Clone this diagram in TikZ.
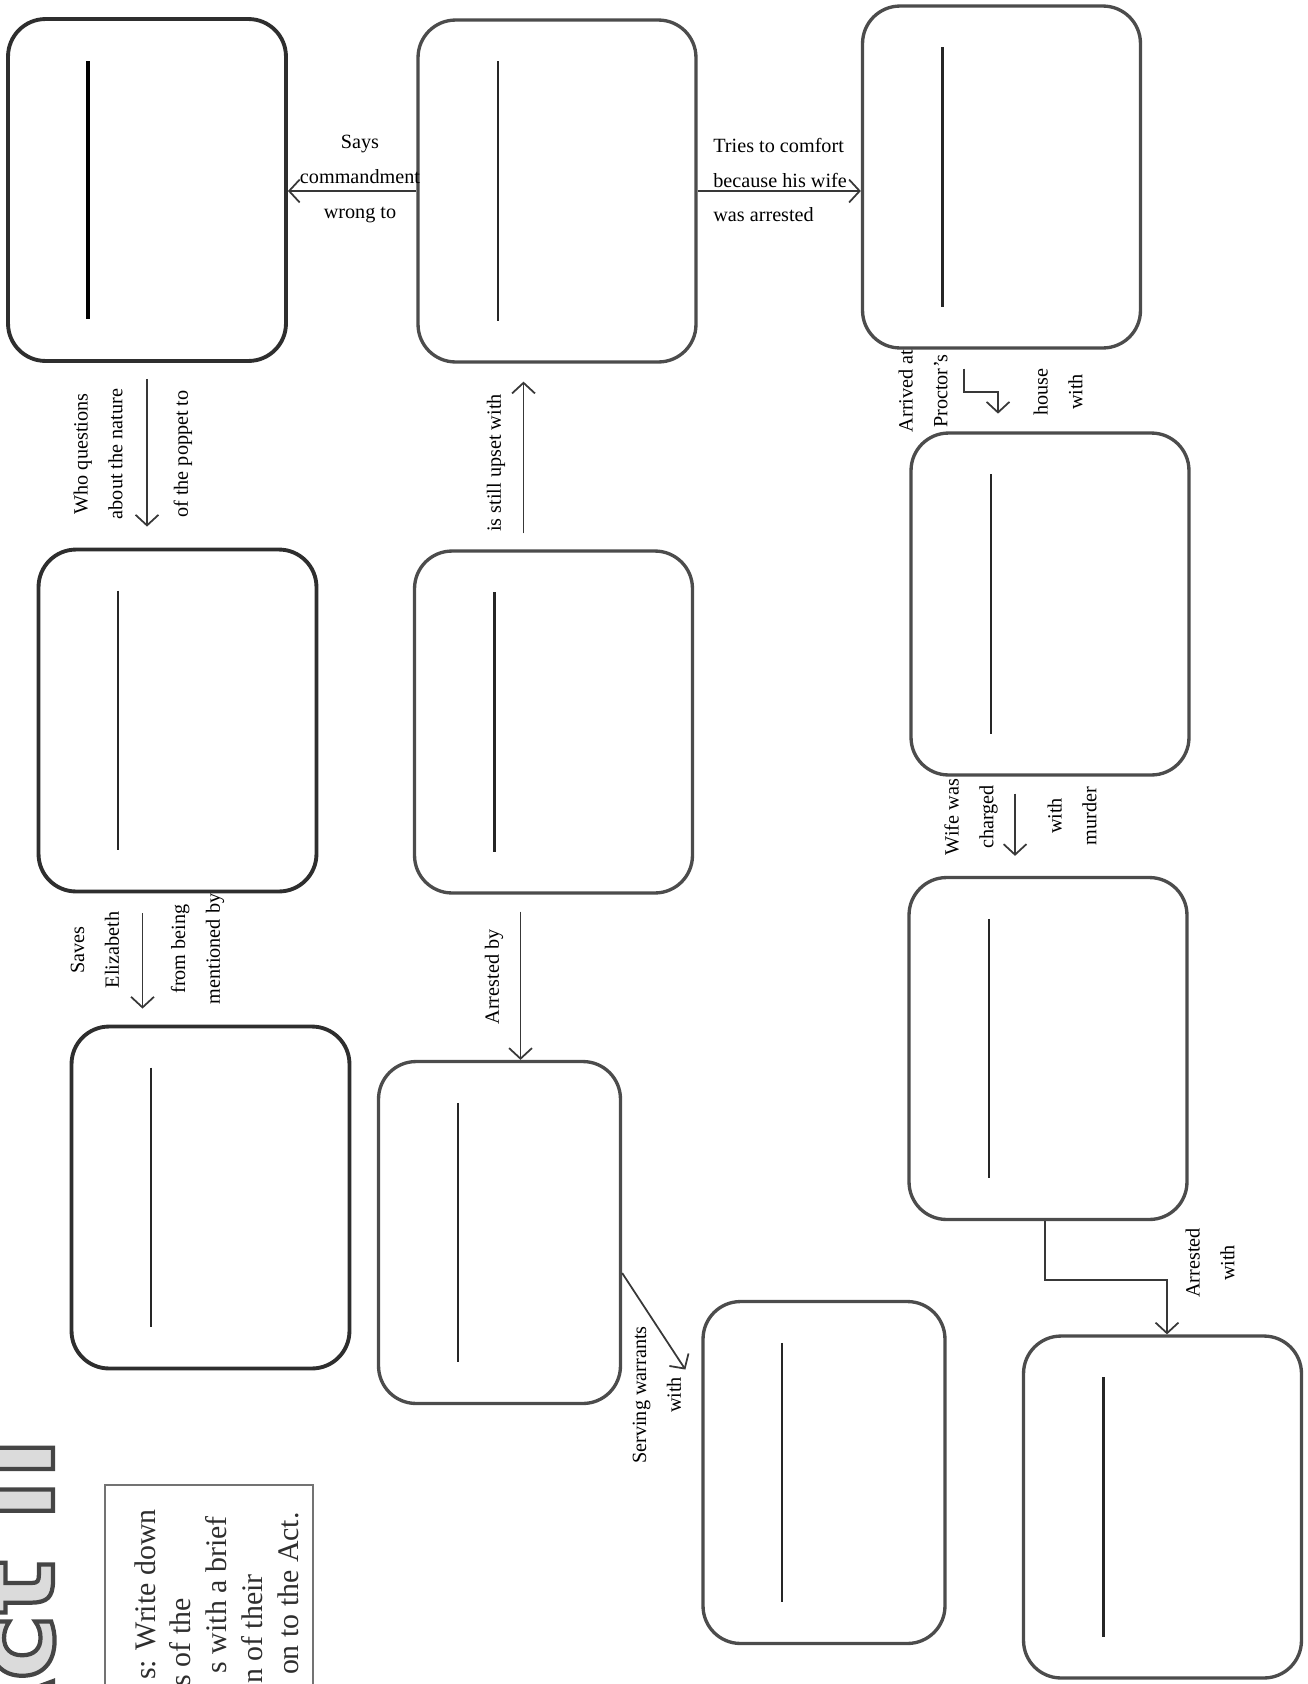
\documentclass[tikz,border=0pt]{standalone}
\usepackage{fontspec}
\setmainfont{Liberation Serif}
\newfontfamily\titlefont{DejaVu Sans}
\usepackage{tikz}
\usetikzlibrary{calc,positioning}
\usetikzlibrary{arrows.meta}
% hollow letters for the sheet title
\newcommand{\outlined}[1]{\special{pdf:literal direct 0.27 G 2.4 w 2 Tr}#1\special{pdf:literal direct 0 Tr}}
\tikzset{
    roundbox/.style={
        draw=black!70,
        line width=1.9pt,
        rounded corners=0.75cm,
        minimum width=5.56cm,
        minimum height=6.84cm,
        inner sep=0pt
    },
    % first column is inked darker
    darkbox/.style={roundbox, draw=black!82, line width=2.2pt},
    narrowbox/.style={roundbox, minimum width=4.84cm},
    blankline/.style={line width=1.3pt, black!85},
    linkarrow/.style={
        line width=1pt,
        black!78,
        -{Straight Barb[length=6pt,width=13pt]}
    },
    lbl/.style={font=\fontsize{11.5}{19.8}\selectfont, align=center, inner sep=0pt},
    rlbl/.style={lbl, rotate=90},
    notebox/.style={draw=black!55, line width=1.6pt},
    note/.style={font=\fontsize{17}{20}\selectfont, rotate=90, inner sep=0pt, text=black!82},
    titletext/.style={font=\titlefont\bfseries\fontsize{64}{64}\selectfont, rotate=90, inner sep=0pt, text=black!14}
}

\begin{document}
\begin{tikzpicture}[x=0.02cm, y=-0.02cm]
    \useasboundingbox (0,0) rectangle (1308,1684);
    \clip (0,0) rectangle (1308,1684);

    % boxes, centres in pixels of the sheet
    \node[darkbox] (p1) at (147,190) {};
    \node[darkbox] (p2) at (177.5,720.5) {};
    \node[darkbox] (p3) at (210.5,1197.5) {};
    \node[roundbox] (p4) at (557,191) {};
    \node[roundbox] (p5) at (553.5,722) {};
    \node[narrowbox] (p6) at (499.5,1232.5) {};
    \node[narrowbox] (p7) at (824,1472.5) {};
    \node[roundbox] (p8) at (1001.5,177) {};
    \node[roundbox] (p9) at (1050,604) {};
    \node[roundbox] (p10) at (1048,1048.5) {};
    \node[roundbox] (p11) at (1162.5,1507) {};

    % blanks to write the names on
    \draw[blankline, line width=2.2pt, black] ($(p1.north west)!0.29!(p1.north east)+(0,44)$) -- ($(p1.south west)!0.29!(p1.south east)+(0,-44)$);
    \foreach \n in {p2,p3,p4,p5,p8,p9,p10,p11}
        \draw[blankline] ($(\n.north west)!0.29!(\n.north east)+(0,43)$) -- ($(\n.south west)!0.29!(\n.south east)+(0,-43)$);
    \foreach \n in {p6,p7}
        \draw[blankline] ($(\n.north west)!0.33!(\n.north east)+(0,43)$) -- ($(\n.south west)!0.33!(\n.south east)+(0,-43)$);

    % connectors
    \draw[linkarrow] (p4.west) -- (p4.west -| p1.east);
    \draw[linkarrow] (p4.east) -- (p4.east -| p8.west);
    \draw[linkarrow, shorten <=0.32cm, shorten >=0.42cm] (p1.south) -- (p1.south |- p2.north);
    \draw[linkarrow, shorten <=0.4cm, shorten >=0.32cm] ([xshift=-0.7cm]p2.south) -- ([xshift=-0.7cm]p2.south |- p3.north);
    \draw[linkarrow, shorten <=0.32cm, shorten >=0.36cm] ([xshift=-0.6cm]p5.north) -- ([xshift=-0.6cm]p5.north |- p4.south);
    \draw[linkarrow, shorten <=0.34cm] ([xshift=-0.66cm]p5.south) -- ([xshift=-0.66cm]p5.south |- p6.north);
    \draw[linkarrow] ([yshift=-0.81cm]p6.east) -- ([xshift=-0.32cm,yshift=2.06cm]p7.west);
    \draw[linkarrow] ([xshift=-0.75cm,yshift=-0.38cm]p8.south) -- ++(0,23) -- ++(34,0) -- ++(0,22);
    \draw[linkarrow, shorten <=0.34cm, shorten >=0.4cm] ([xshift=-0.7cm]p9.south) -- ([xshift=-0.7cm]p9.south |- p10.north);
    \draw[linkarrow] ([xshift=-0.06cm]p10.south) -- ++(0,59) -| ([xshift=0.09cm]p11.north);

    % labels on the connectors
    \node[lbl] (says) at (360,179) {Says\\commandment\\wrong to};
    \node[lbl, align=left, anchor=west] (tries) at (713,180) {Tries to comfort\\because his wife\\was arrested};
    \node[rlbl] (who) at (98,454) {Who questions\\about the nature};
    \node[rlbl] (poppet) at (183,454) {of the poppet to};
    \node[rlbl] (saves) at (95,950) {Saves\\Elizabeth};
    \node[rlbl] (being) at (197.5,949) {from being\\mentioned by};
    \node[rlbl] (upset) at (496,463) {is still upset with};
    \node[rlbl] (arrby) at (494,977) {Arrested by};
    \node[rlbl] (serving) at (657,1395) {Serving warrants\\with};
    \node[rlbl] (arrived) at (923,391) {Arrived at\\Proctor's};
    \node[rlbl] (house) at (1058,392) {house\\with};
    \node[rlbl] (wife) at (971,817) {Wife was\\charged};
    \node[rlbl] (murder) at (1072,816) {with\\murder};
    \node[rlbl] (arrwith) at (1210,1263) {Arrested\\with};

    % title and directions, cut by the sheet edge
    \node[titletext, anchor=base east] (act) at (53,1437) {\outlined{Act II}};
    \draw[notebox] (105,1485) rectangle (313,1710);
    \node[note, anchor=base east] (n1) at (155,1509) {s: Write down};
    \node[note, anchor=base east] (n2) at (190,1598) {s of the};
    \node[note, anchor=base east] (n3) at (226,1516) {s with a brief};
    \node[note, anchor=base east] (n4) at (262,1574) {n of their};
    \node[note, anchor=base east] (n5) at (298,1512) {on to the Act.};
\end{tikzpicture}
\end{document}
